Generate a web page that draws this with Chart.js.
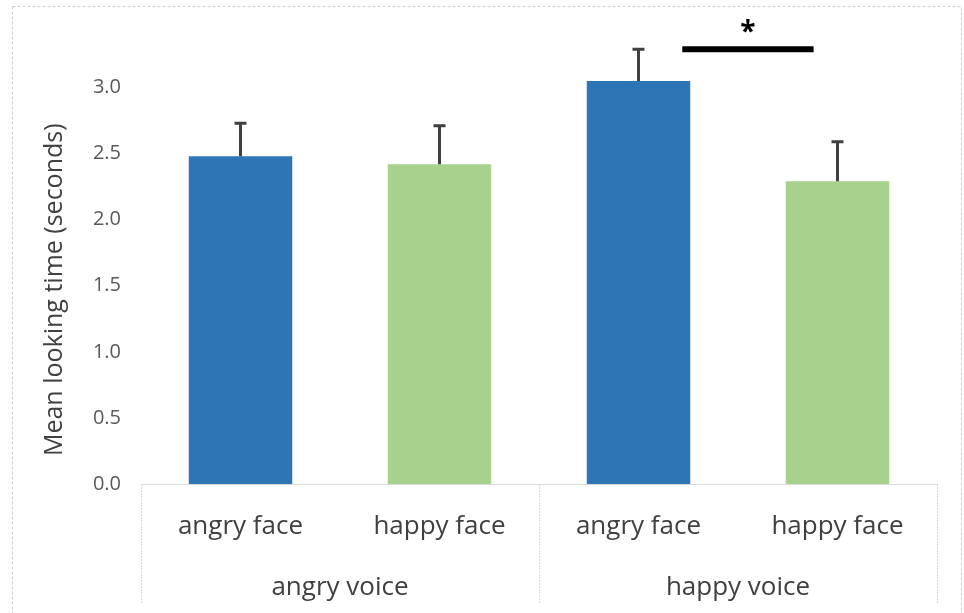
<!DOCTYPE html>
<html>
<head>
<meta charset="utf-8">
<script src="https://cdn.jsdelivr.net/npm/chart.js@4.4.0/dist/chart.umd.min.js"></script>
<style>
  html, body { margin: 0; padding: 0; background: #fff; }
  #wrap { width: 964px; height: 613px; }
</style>
</head>
<body>
<div id="wrap"><canvas id="lookChart"></canvas></div>
<script>
// --- DATA ---
const faceLabels = ['angry face', 'happy face', 'angry face', 'happy face'];
const voiceLabels = ['angry voice', 'happy voice'];
const meanTimes = [2.48, 2.42, 3.05, 2.29];
const errUp = [0.25, 0.29, 0.24, 0.30];
const barColors = ['#2E75B6', '#A9D18E', '#2E75B6', '#A9D18E'];
const yTicks = [0, 0.5, 1.0, 1.5, 2.0, 2.5, 3.0];
const yMax = 3.42;
const yTitle = 'Mean looking time (seconds)';
// significance bar between 3rd and 4th bar
const sigFrom = 2.22, sigTo = 2.88, sigLevel = 3.29, sigStarLevel = 3.44;
const sigText = '*';

const FONT = "'Open Sans', sans-serif";

// --- EXTRA DRAWING (error bars, group lines, star, frame) ---
const extras = {
    id: 'extras',
    afterDraw(chart) {
        const { ctx, chartArea, scales: { x, y } } = chart;
        ctx.save();

        // outer dashed frame
        ctx.strokeStyle = '#cfcfcf';
        ctx.lineWidth = 1;
        ctx.setLineDash([3, 2]);
        ctx.strokeRect(12.5, 6.5, 949, 640);

        // group separators under the axis
        ctx.strokeStyle = '#d9d9d9';
        ctx.setLineDash([2, 1]);
        const perGroup = faceLabels.length / voiceLabels.length;
        for (let g = 0; g <= voiceLabels.length; g++) {
            const px = Math.round(x.getPixelForValue(g * perGroup - 0.5)) + 0.5;
            ctx.beginPath();
            ctx.moveTo(px, chartArea.bottom);
            ctx.lineTo(px, 603);
            ctx.stroke();
        }
        ctx.setLineDash([]);

        // error bars (upper only)
        ctx.strokeStyle = '#404040';
        ctx.lineWidth = 3;
        meanTimes.forEach((v, i) => {
            const cx = x.getPixelForValue(i);
            const y0 = y.getPixelForValue(v);
            const y1 = y.getPixelForValue(v + errUp[i]);
            ctx.beginPath();
            ctx.moveTo(cx, y0);
            ctx.lineTo(cx, y1);
            ctx.moveTo(cx - 6, y1);
            ctx.lineTo(cx + 6, y1);
            ctx.stroke();
        });

        // significance bar + star
        ctx.strokeStyle = '#000';
        ctx.lineWidth = 6;
        const sy = y.getPixelForValue(sigLevel);
        ctx.beginPath();
        ctx.moveTo(x.getPixelForValue(sigFrom), sy);
        ctx.lineTo(x.getPixelForValue(sigTo), sy);
        ctx.stroke();
        ctx.fillStyle = '#000';
        ctx.font = "bold 28px " + FONT;
        ctx.textAlign = 'center';
        ctx.textBaseline = 'middle';
        ctx.fillText(sigText, x.getPixelForValue((sigFrom + sigTo) / 2), y.getPixelForValue(sigStarLevel) + 4);

        // y axis title
        ctx.fillStyle = '#404040';
        ctx.font = "25px " + FONT;
        ctx.translate(chartArea.left - 86, (y.getPixelForValue(0) + y.getPixelForValue(3)) / 2 + 4);
        ctx.rotate(-Math.PI / 2);
        ctx.fillText(yTitle, 0, 0);
        ctx.restore();
    }
};

// --- CHART ---
window.addEventListener('DOMContentLoaded', () => {
    const ctx = document.getElementById('lookChart').getContext('2d');
    new Chart(ctx, {
        type: 'bar',
        data: {
            labels: faceLabels,
            datasets: [{
                data: meanTimes,
                backgroundColor: barColors,
                borderWidth: 0,
                categoryPercentage: 1,
                barPercentage: 0.52
            }]
        },
        options: {
            responsive: true,
            maintainAspectRatio: false,
            animation: false,
            layout: { padding: { top: 0, right: 27, left: 0, bottom: 0 } },
            plugins: { legend: { display: false }, tooltip: { enabled: false } },
            scales: {
                y: {
                    min: 0, max: yMax,
                    afterBuildTicks: s => { s.ticks = yTicks.map(v => ({ value: v })); },
                    afterFit: s => { s.width = 141; },
                    grid: { display: false, drawTicks: false },
                    border: { display: false },
                    ticks: {
                        padding: 20,
                        color: '#595959',
                        font: { family: FONT, size: 20 },
                        callback: v => Number(v).toFixed(1)
                    }
                },
                x: {
                    weight: 0,
                    afterFit: s => { s.height = 70; },
                    grid: { display: false, drawTicks: false },
                    border: { display: true, color: '#d9d9d9', width: 1 },
                    ticks: {
                        padding: 27,
                        color: '#404040',
                        font: { family: FONT, size: 26 },
                        maxRotation: 0, autoSkip: false
                    }
                },
                x2: {
                    type: 'category',
                    position: 'bottom',
                    weight: 1,
                    labels: voiceLabels,
                    afterFit: s => { s.height = 59; },
                    grid: { display: false, drawTicks: false },
                    border: { display: false },
                    ticks: {
                        padding: 18,
                        color: '#404040',
                        font: { family: FONT, size: 26 },
                        maxRotation: 0, autoSkip: false
                    }
                }
            }
        },
        plugins: [extras]
    });
});
</script>
</body>
</html>
